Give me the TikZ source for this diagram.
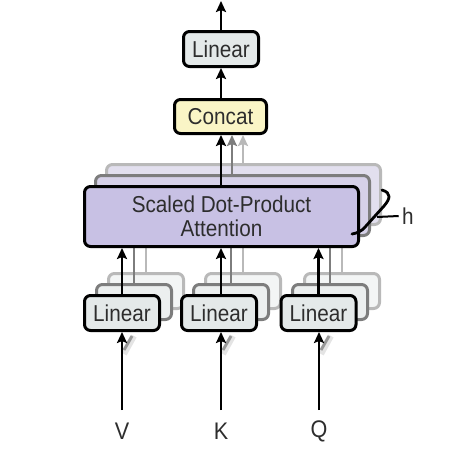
\documentclass[tikz,border=0pt]{standalone}
\usepackage{fontspec}
\setmainfont{Liberation Sans}[FakeStretch=0.9]
\usetikzlibrary{arrows.meta}
\definecolor{txt}{RGB}{45,45,45}
\definecolor{linfill}{RGB}{228,233,233}
\definecolor{catfill}{RGB}{250,245,198}
\definecolor{attfill}{RGB}{200,193,228}
\definecolor{attfillb}{RGB}{214,209,232}
\definecolor{attfillc}{RGB}{226,223,238}
\definecolor{linfillb}{RGB}{236,239,239}
\definecolor{linfillc}{RGB}{243,245,245}
\definecolor{edgeb}{RGB}{125,125,125}
\definecolor{edgec}{RGB}{185,185,185}
\begin{document}
\begin{tikzpicture}[x=1pt,y=-1pt,
  lbl/.style={font=\fontsize{23}{27}\selectfont, text=txt},
  box/.style={draw, line width=3pt, rounded corners=6pt, inner sep=0pt, lbl},
  linbox/.style={box, minimum width=75pt, minimum height=35pt, fill=linfill},
  catbox/.style={box, minimum width=92pt, minimum height=34pt, fill=catfill},
  attbox/.style={box, minimum width=274pt, minimum height=60pt, fill=attfill, align=center},
  arr/.style={line width=2.8pt, -{Stealth[length=11pt,width=10pt,inset=2pt]}},
  layb/.style={draw=edgeb},
  layc/.style={draw=edgec},
]
\useasboundingbox (0,0) rectangle (462,472);

% ---------- third (back) layers ----------
\node[linbox, layc, fill=linfillc] (l1c) at (146,291) {};
\node[linbox, layc, fill=linfillc] (l2c) at (243,291) {};
\node[linbox, layc, fill=linfillc] (l3c) at (342,291) {};
\node[attbox, layc, fill=attfillc] (attc) at (243.5,194.5) {};
\draw[line width=2.4pt, edgec] (l1c.north) -- (l1c.north |- attc.south);
\draw[line width=2.4pt, edgec] (l2c.north) -- (l2c.north |- attc.south);
\draw[line width=2.4pt, edgec] (l3c.north) -- (l3c.north |- attc.south);

% ---------- second layers ----------
\node[linbox, layb, fill=linfillb] (l1b) at (134,302) {};
\node[linbox, layb, fill=linfillb] (l2b) at (231,302) {};
\node[linbox, layb, fill=linfillb] (l3b) at (330,302) {};
\node[attbox, layb, fill=attfillb] (attb) at (232.5,205.5) {};
\draw[line width=2.4pt, edgeb] (l1b.north) -- (l1b.north |- attb.south);
\draw[line width=2.4pt, edgeb] (l2b.north) -- (l2b.north |- attb.south);
\draw[line width=2.4pt, edgeb] (l3b.north) -- (l3b.north |- attb.south);

% ---------- front layer ----------
\node[linbox] (l1) at (122,313) {Linear};
\node[linbox] (l2) at (219,313) {Linear};
\node[linbox] (l3) at (318.5,313) {Linear};
\node[attbox] (att) at (221.5,216.5) {Scaled Dot-Product\\[-3pt]Attention};

% inputs
\node[lbl, font=\fontsize{24}{27}\selectfont] (V) at (122,431) {V};
\node[lbl, font=\fontsize{24}{27}\selectfont] (K) at (221,431) {K};
\node[lbl, font=\fontsize{24}{27}\selectfont] (Q) at (319,431) {Q};
\coordinate (vs) at (122,410);
\coordinate (ks) at (221,410);
\coordinate (qs) at (319,410);

% shadowed feeds to hidden layers
\foreach \x/\n in {122/a,221/b,319/c}{
  \draw[line width=6pt, black!30, opacity=0.35] (\x+2,354) -- (\x+12,336);
  \draw[line width=3pt, black!60, opacity=0.6] (\x+2,350) -- (\x+10,336);
}

\draw[arr] (vs) -- (l1.south);
\draw[arr] (ks) -- (l2.south -| ks);
\draw[arr] (qs) -- (l3.south -| qs);

\draw[arr] (l1.north) -- (l1.north |- att.south);
\draw[arr] ([xshift=2pt]l2.north) -- ([xshift=2pt]l2.north |- att.south);
\draw[arr] (l3.north) -- (l3.north |- att.south);

% concat and output linear
\node[catbox] (cat) at (220.5,116.5) {Concat};
\node[linbox] (lo) at (221,49) {Linear};
\coordinate (out) at (221,1);

\draw[arr, edgec] (attc.north -| 243,0) -- (cat.south -| 243,0);
\draw[arr, edgeb] (attb.north -| 232,0) -- (cat.south -| 232,0);
\draw[arr] (att.north -| 221,0) -- (cat.south -| 221,0);
\draw[arr] (cat.north -| 221,0) -- (lo.south);
\draw[arr] (lo.north) -- (out);

% brace with h
\coordinate (bt) at (382,190);
\coordinate (bb) at (352,234);
\coordinate (bm) at (377,217);
\node[lbl] (h) at (408,216) {h};
\draw[line width=2.8pt, line cap=round] (bt) .. controls (392,193) and (390,199) .. (384,206)
  -- (366,226) .. controls (361,232) and (357,233) .. (bb);
\draw[line width=2pt] (bm) -- (h.west);
\end{tikzpicture}
\end{document}
